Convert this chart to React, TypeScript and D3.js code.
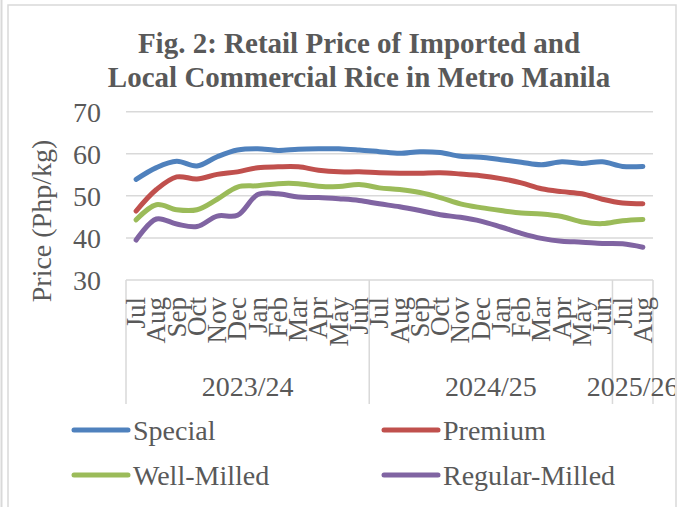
import { useEffect, useRef } from "react";
import * as d3 from "d3";

const months = [
  "Jul", "Aug", "Sep", "Oct", "Nov", "Dec", "Jan", "Feb", "Mar", "Apr", "May", "Jun",
  "Jul", "Aug", "Sep", "Oct", "Nov", "Dec", "Jan", "Feb", "Mar", "Apr", "May", "Jun",
  "Jul", "Aug",
];
const years = ["2023/24", "2024/25", "2025/26"];
const yearCounts = [12, 12, 2];

const special = [
  53.9, 56.7, 58.2, 57.1, 59.3, 60.9, 61.2, 60.8, 61.1, 61.2, 61.2, 60.9, 60.5,
  60.1, 60.5, 60.3, 59.4, 59.2, 58.6, 58.0, 57.4, 58.1, 57.7, 58.1, 57.0, 57.0,
];
const premium = [
  46.4, 51.5, 54.5, 54.0, 55.1, 55.7, 56.7, 56.9, 56.9, 56.1, 55.7, 55.7, 55.5,
  55.4, 55.4, 55.5, 55.2, 54.8, 54.1, 53.1, 51.7, 51.0, 50.5, 49.2, 48.3, 48.1,
];
const wellMilled = [
  44.3, 47.9, 46.7, 46.7, 49.2, 52.1, 52.4, 52.9, 52.9, 52.3, 52.2, 52.7, 51.9,
  51.5, 50.8, 49.6, 48.1, 47.2, 46.5, 45.9, 45.7, 45.1, 43.8, 43.4, 44.1, 44.4,
];
const regularMilled = [
  39.5, 44.5, 43.3, 42.7, 45.2, 45.4, 50.3, 50.5, 49.7, 49.6, 49.3, 48.9, 48.1,
  47.4, 46.5, 45.5, 44.9, 44.0, 42.6, 41.1, 39.9, 39.2, 39.0, 38.7, 38.6, 37.8,
];
const yTicks = [30, 40, 50, 60, 70];

const series = [
  { name: "Special", values: special, color: "#4f81bd" },
  { name: "Premium", values: premium, color: "#c0504d" },
  { name: "Well-Milled", values: wellMilled, color: "#9bbb59" },
  { name: "Regular-Milled", values: regularMilled, color: "#8064a2" },
];

export default function App() {
  const svgRef = useRef<SVGSVGElement>(null);

  useEffect(() => {
    const width = 678;
    const height = 507;
    const font = "'Liberation Serif', 'Times New Roman', serif";
    const textColor = "#595959";
    const gridColor = "#d9d9d9";

    const root = d3.select(svgRef.current);
    root.selectAll("*").remove();
    root.attr("width", width).attr("height", height);

    root.append("rect").attr("width", width).attr("height", height).attr("fill", "#fff");

    // chart area is clipped at its border, like the source image
    root.append("defs").append("clipPath").attr("id", "chart-clip")
      .append("rect").attr("x", 0).attr("y", 0).attr("width", 675).attr("height", height);
    const svg = root.append("g").attr("clip-path", "url(#chart-clip)");

    // outer frame lines
    root.append("line").attr("x1", 1.5).attr("x2", 1.5).attr("y1", 0).attr("y2", height)
      .attr("stroke", gridColor).attr("stroke-width", 2);
    root.append("rect").attr("x", 8).attr("y", 5).attr("width", 668).attr("height", 510)
      .attr("fill", "none").attr("stroke", gridColor).attr("stroke-width", 1.5);

    const x = d3.scaleBand<number>()
      .domain(d3.range(months.length))
      .range([126, 653]);
    const y = d3.scaleLinear().domain([30, 70]).range([280, 111.7]);
    const cx = (i: number) => (x(i) ?? 0) + x.bandwidth() / 2;

    // title
    const title = svg.append("text")
      .attr("text-anchor", "middle")
      .attr("font-family", font)
      .attr("font-weight", "bold")
      .attr("font-size", 29)
      .attr("fill", textColor);
    title.append("tspan").attr("x", 359).attr("y", 53).text("Fig. 2: Retail Price of Imported and");
    title.append("tspan").attr("x", 359).attr("y", 87).text("Local Commercial Rice in Metro Manila");

    // gridlines
    svg.append("g")
      .selectAll("line")
      .data(yTicks.filter((t) => t > 30))
      .join("line")
      .attr("x1", 126).attr("x2", 653)
      .attr("y1", (d) => y(d)).attr("y2", (d) => y(d))
      .attr("stroke", gridColor).attr("stroke-width", 1.5);

    // y tick labels
    svg.append("g")
      .selectAll("text")
      .data(yTicks)
      .join("text")
      .attr("x", 101)
      .attr("y", (d) => y(d))
      .attr("dy", "0.35em")
      .attr("text-anchor", "end")
      .attr("font-family", font)
      .attr("font-size", 28)
      .attr("fill", textColor)
      .text((d) => d);

    // y axis title
    svg.append("text")
      .attr("transform", "translate(51,221) rotate(-90)")
      .attr("text-anchor", "middle")
      .attr("font-family", font)
      .attr("font-size", 28)
      .attr("fill", textColor)
      .text("Price (Php/kg)");

    // category axis line and group separators
    svg.append("line").attr("x1", 126).attr("x2", 653).attr("y1", 280).attr("y2", 280)
      .attr("stroke", gridColor).attr("stroke-width", 1.5);
    const bounds = [0, ...d3.cumsum(yearCounts)];
    const edge = (d: number) => (d < months.length ? x(d)! : x.range()[1]);
    svg.append("g")
      .selectAll("line")
      .data(bounds)
      .join("line")
      .attr("x1", edge)
      .attr("x2", edge)
      .attr("y1", 280).attr("y2", 404)
      .attr("stroke", gridColor).attr("stroke-width", 1.5);

    // month labels
    svg.append("g")
      .selectAll("text")
      .data(months)
      .join("text")
      .attr("transform", (_, i) => `translate(${cx(i)},297) rotate(-90)`)
      .attr("dy", "0.33em")
      .attr("text-anchor", "end")
      .attr("font-family", font)
      .attr("font-size", 27)
      .attr("fill", textColor)
      .text((d) => d);

    // year labels
    svg.append("g")
      .selectAll("text")
      .data(years)
      .join("text")
      .attr("x", (_, i) => (edge(bounds[i]) + edge(bounds[i + 1])) / 2)
      .attr("y", 396)
      .attr("text-anchor", "middle")
      .attr("font-family", font)
      .attr("font-size", 28)
      .attr("fill", textColor)
      .text((d) => d);

    // lines
    const line = d3.line<number>()
      .x((_, i) => cx(i))
      .y((d) => y(d))
      .curve(d3.curveCatmullRom.alpha(0.5));

    svg.append("g")
      .selectAll("path")
      .data(series)
      .join("path")
      .attr("fill", "none")
      .attr("stroke", (d) => d.color)
      .attr("stroke-width", 5)
      .attr("stroke-linecap", "round")
      .attr("stroke-linejoin", "round")
      .attr("d", (d) => line(d.values));

    // legend
    const legend = svg.append("g")
      .selectAll("g")
      .data(series)
      .join("g")
      .attr("transform", (_, i) => `translate(${i % 2 === 0 ? 74 : 384},${i < 2 ? 430 : 475})`);
    legend.append("line")
      .attr("x1", 0).attr("x2", 54).attr("y1", 0).attr("y2", 0)
      .attr("stroke", (d) => d.color).attr("stroke-width", 5).attr("stroke-linecap", "round");
    legend.append("text")
      .attr("x", 59)
      .attr("dy", "0.35em")
      .attr("font-family", font)
      .attr("font-size", 28)
      .attr("fill", textColor)
      .text((d) => d.name);
  }, []);

  return <svg ref={svgRef} style={{ position: "absolute", left: 0, top: 0 }}></svg>;
}
